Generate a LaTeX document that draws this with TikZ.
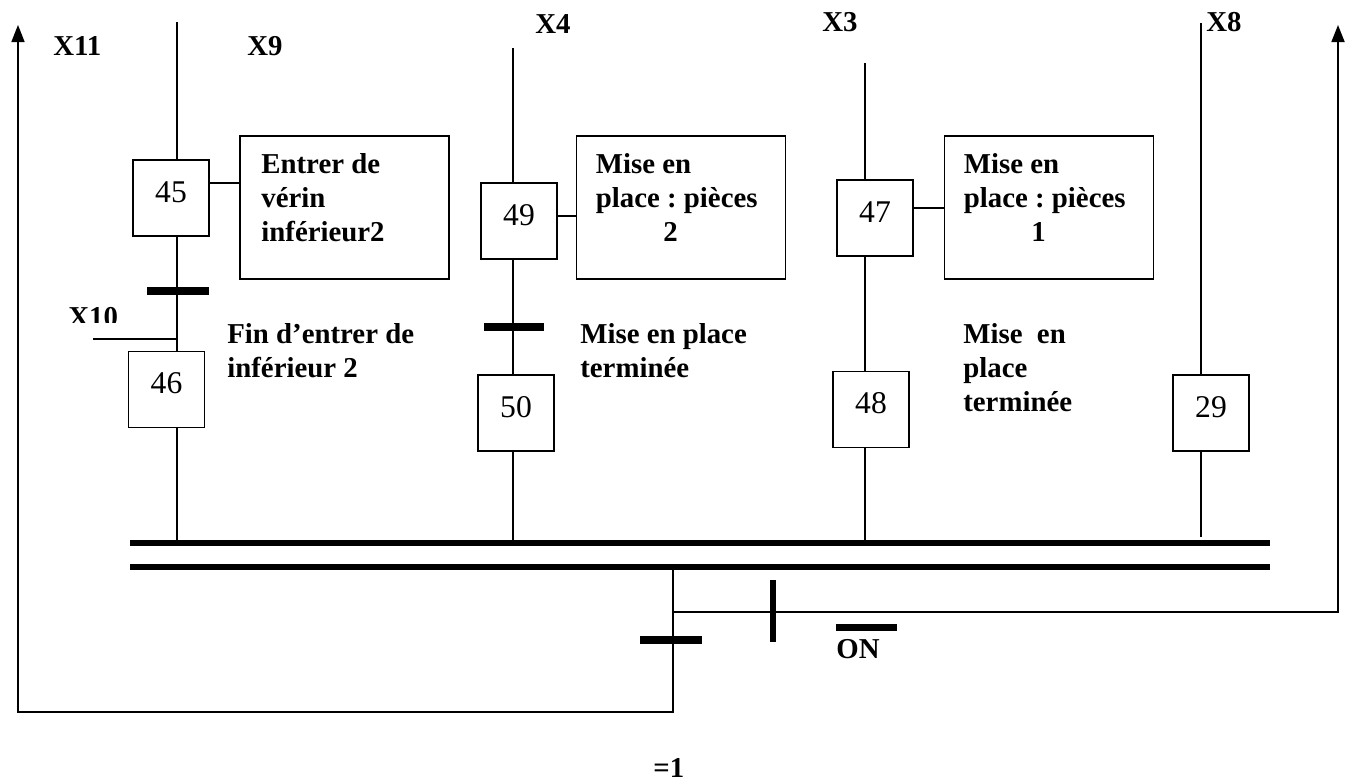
\documentclass[tikz,border=0pt]{standalone}
\usepackage{fontspec}
\setmainfont{Liberation Serif}
\usetikzlibrary{arrows.meta, positioning}

\tikzset{
  etape/.style={draw, line width=1.1pt, minimum width=1.52cm, minimum height=1.52cm,
    inner sep=0pt, text height=0.5cm, text depth=0.34cm, font=\fontsize{18}{20}\selectfont},
  action/.style={draw, line width=1.1pt, minimum width=4.18cm, minimum height=2.86cm},
  lbl/.style={font=\bfseries\fontsize{16.4}{19.5}\selectfont\frenchspacing, inner sep=0pt, align=left},
  lien/.style={line width=1pt},
  recep/.style={line width=4.5pt},
  bus/.style={line width=3pt},
  renvoi/.style={line width=1pt, -{Triangle[length=0.34cm, width=0.26cm]}},
}

\begin{document}
\begin{tikzpicture}[x=0.02cm, y=-0.02cm]
  \useasboundingbox (0,0) rectangle (1350,782);

  % double barre de convergence
  \coordinate (busA) at (130,543);
  \coordinate (busB) at (1270,543);
  \coordinate (busC) at (130,567);
  \coordinate (busD) at (1270,567);
  \draw[bus] (busA) -- (busB);
  \draw[bus] (busC) -- (busD);

  % branche X9
  \coordinate (c1) at (177,22);
  \node[etape] (s45) at (171,198) {45};
  \node[etape] (s46) at (166.5,389.5) {46};
  \node[action] (a45) at (344.5,207.5) {};
  \node[lbl, anchor=north west] (a45t) at ([xshift=0.44cm, yshift=-0.36cm]a45.north west) {Entrer de\\vérin\\inférieur2};
  \draw[lien] (c1) -- (c1 |- s45.north);
  \draw[lien] (c1 |- s45.south) -- (c1 |- s46.north);
  \draw[lien] (c1 |- s46.south) -- (c1 |- busA);
  \draw[lien] ([yshift=0.3cm]s45.east) -- ([yshift=0.3cm]s45.east -| a45.west);
  \coordinate (t1) at (177,291);
  \draw[recep] ([xshift=-0.6cm]t1) -- ([xshift=0.64cm]t1);
  \node[lbl, anchor=north west] (r45) at (227,323) {Fin d’entrer de\\inférieur 2};
  \coordinate (x10) at (93,339);
  \draw[lien] (x10) -- (x10 -| c1);
  \begin{scope}
    \clip (60,295) rectangle (170,322);
    \node[lbl, anchor=base west] (lx10) at (68,326) {X10};
  \end{scope}

  % branche X4
  \coordinate (c2) at (513,48);
  \node[etape] (s49) at (519,221) {49};
  \node[etape] (s50) at (516,413) {50};
  \node[action] (a49) at (681,207.5) {};
  \node[lbl, anchor=north west] (a49t) at ([xshift=0.4cm, yshift=-0.36cm]a49.north west) {Mise en\\place : pièces\\\hspace*{1.35cm}2};
  \draw[lien] (c2) -- (c2 |- s49.north);
  \draw[lien] (c2 |- s49.south) -- (c2 |- s50.north);
  \draw[lien] (c2 |- s50.south) -- (c2 |- busA);
  \draw[lien] ([yshift=0.1cm]s49.east) -- ([yshift=0.1cm]s49.east -| a49.west);
  \coordinate (t2) at (513,327);
  \draw[recep] ([xshift=-0.58cm]t2) -- ([xshift=0.62cm]t2);
  \node[lbl, anchor=north west] (r49) at (580,323) {Mise en place\\terminée};

  % branche X3
  \coordinate (c3) at (865,63);
  \node[etape] (s47) at (875,218) {47};
  \node[etape] (s48) at (871,409.5) {48};
  \node[action] (a47) at (1049,207.5) {};
  \node[lbl, anchor=north west] (a47t) at ([xshift=0.4cm, yshift=-0.36cm]a47.north west) {Mise en\\place : pièces\\\hspace*{1.35cm}1};
  \draw[lien] (c3) -- (c3 |- s47.north);
  \draw[lien] (c3 |- s47.south) -- (c3 |- s48.north);
  \draw[lien] (c3 |- s48.south) -- (c3 |- busA);
  \draw[lien] ([yshift=0.2cm]s47.east) -- ([yshift=0.2cm]s47.east -| a47.west);
  \node[lbl, anchor=north west] (r47) at (963,323) {Mise~ en\\place\\terminée};

  % branche X8
  \coordinate (c4) at (1201,23);
  \coordinate (c4b) at (1201,537);
  \node[etape] (s29) at (1211,413) {29};
  \draw[lien] (c4) -- (c4 |- s29.north);
  \draw[lien] (c4 |- s29.south) -- (c4b);

  % etiquettes
  \node[lbl, anchor=base west] (lx11) at (53,55) {X11};
  \node[lbl, anchor=base west] (lx9) at (247,55) {X9};
  \node[lbl, anchor=base west] (lx4) at (535,33) {X4};
  \node[lbl, anchor=base west] (lx3) at (822,31) {X3};
  \node[lbl, anchor=base west] (lx8) at (1206,31) {X8};

  % sortie de la convergence
  \coordinate (j) at (673,567);
  \coordinate (jb) at (673,712);
  \coordinate (g) at (18,712);
  \coordinate (gtop) at (18,25);
  \draw[renvoi] (j) -- (jb) -- (g) -- (gtop);
  \coordinate (t5) at (673,640);
  \draw[recep] ([xshift=-0.66cm]t5) -- ([xshift=0.58cm]t5);
  \node[lbl, anchor=base west] (eq1) at (653,777) {=1};

  \coordinate (k) at (673,612);
  \coordinate (kr) at (1338,612);
  \coordinate (krtop) at (1338,25);
  \draw[renvoi] (k) -- (kr) -- (krtop);
  \coordinate (t6) at (773,612);
  \draw[line width=3.4pt] ([yshift=0.64cm]t6) -- ([yshift=-0.6cm]t6);
  \node[lbl, anchor=base west] (on) at (836,658) {ON};
  \draw[line width=4pt] ([yshift=0.22cm]on.north west) -- ++(1.22cm,0);
\end{tikzpicture}
\end{document}
